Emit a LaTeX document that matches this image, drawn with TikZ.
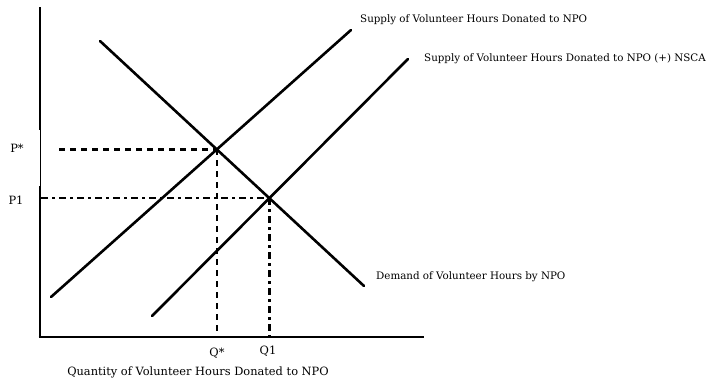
\documentclass[tikz,border=0pt]{standalone}
\usepackage{fontspec}
\setmainfont{DejaVu Serif}
\usetikzlibrary{intersections}

\tikzset{
  curve/.style={line width=2.6pt},
  axis/.style={line width=2.8pt},
  guide/.style={line width=2.4pt,dash pattern=on 6pt off 5pt},
  guidedot/.style={line width=2.4pt,dash pattern=on 7pt off 4pt on 3pt off 4pt},
  lbl/.style={font=\fontsize{10.3}{12}\selectfont,inner sep=0pt},
  lblwide/.style={font=\fontsize{11.4}{13}\selectfont,inner sep=0pt}
}

\begin{document}
\begin{tikzpicture}[x=1pt,y=-1pt]
        % background
        \useasboundingbox (0,0) rectangle (719,381);
        % axes
        \coordinate (ytop) at (40,7);
        \coordinate (ygapa) at (40,130);
        \coordinate (ygapb) at (40,186);
        \coordinate (origin) at (40,337);
        \coordinate (xend) at (424,337);
        \draw[axis] (ytop) -- (ygapa);
        \draw[line width=0.8pt] (ygapa) -- (ygapb);
        \draw[axis] (ygapb) -- (origin);
        \draw[axis] ([xshift=-1.4pt]origin) -- (xend);
        % curves
        \coordinate (dtop) at (100,41);
        \coordinate (dbot) at (364,286);
        \coordinate (sbot) at (51,297);
        \coordinate (stop) at (351,30);
        \coordinate (tbot) at (152,316);
        \coordinate (ttop) at (408,59);
        \draw[curve,line cap=round,name path=dem] (dtop) -- (dbot);
        \draw[curve,line cap=round,name path=sup] (sbot) -- (stop);
        \draw[curve,line cap=round,name path=nsca] (tbot) -- (ttop);
        \path[name intersections={of=dem and sup,by=pstar}];
        \path[name intersections={of=dem and nsca,by=pone}];
        % guides
        \coordinate (pstarl) at (59,0 |- pstar);
        \coordinate (ponel) at (41,0 |- pone);
        \draw[guide] (pstarl) -- (pstar);
        \draw[guide] (pstar) -- (pstar |- origin);
        \draw[guidedot] (ponel) -- (pone);
        \draw[guidedot] (pone) -- (pone |- origin);
        % labels
        \node[lblwide] (lpstar) at (17,148) {P*};
        \node[lblwide] (lpone) at (16,200) {P1};
        \node[lblwide] (lqstar) at (217,353) {Q*};
        \node[lblwide] (lqone) at (268,351) {Q1};
        \node[lblwide] (lqty) at (198,372) {Quantity of Volunteer Hours Donated to NPO};
        \node[lbl,anchor=west] (lsup) at (360,20) {Supply of Volunteer Hours Donated to NPO};
        \node[lbl,anchor=west] (lnsca) at (424,59) {Supply of Volunteer Hours Donated to NPO (+) NSCA};
        \node[lbl,anchor=west] (ldem) at (376,277) {Demand of Volunteer Hours by NPO};
      \end{tikzpicture}
\end{document}
